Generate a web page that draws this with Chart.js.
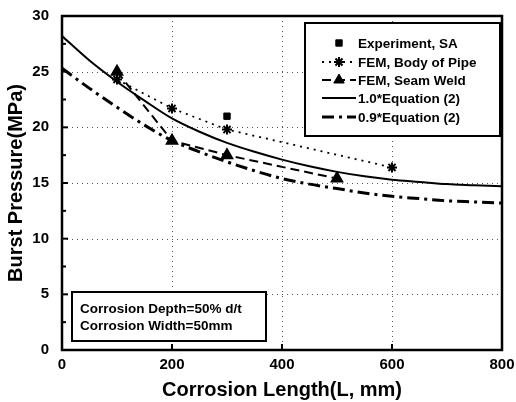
<!DOCTYPE html>
<html><head><meta charset="utf-8">
<script src="https://cdn.jsdelivr.net/npm/chart.js@4/dist/chart.umd.min.js"></script>
<style>html,body{margin:0;padding:0;background:#fff;}#wrap{width:516px;height:402px;}</style>
</head><body><div id="wrap"><canvas id="c" width="516" height="402"></canvas></div>
<script>
// ---- data ----
const expX = [300];
const expY = [21.0];
const bodyX = [100, 200, 300, 600];
const bodyY = [24.3, 21.7, 19.8, 16.4];
const seamX = [100, 200, 300, 500];
const seamY = [25.0, 18.8, 17.5, 15.4];
const eqX = [0, 50, 100, 150, 200, 250, 300, 350, 400, 450, 500, 550, 600, 650, 700, 750, 800];
const eq10Y = [28.2, 26.0, 24.1, 22.4, 20.8, 19.6, 18.6, 17.8, 17.1, 16.5, 16.0, 15.6, 15.3, 15.1, 14.9, 14.8, 14.7];
const eq09Y = [25.3, 23.5, 21.8, 20.2, 18.8, 17.8, 16.9, 16.1, 15.4, 14.9, 14.5, 14.1, 13.8, 13.6, 13.4, 13.3, 13.2];
const xTicks = [0, 200, 400, 600, 800];
const yTicks = [0, 5, 10, 15, 20, 25, 30];
const legendLabels = ['Experiment, SA', 'FEM, Body of Pipe', 'FEM, Seam Weld', '1.0*Equation (2)', '0.9*Equation (2)'];
const noteLines = ['Corrosion Depth=50% d/t', 'Corrosion Width=50mm'];
const xTitle = 'Corrosion Length(L, mm)';
const yTitle = 'Burst Pressure(MPa)';

const pts = (xs, ys) => xs.map((x, i) => ({x, y: ys[i]}));
const FONT = '"Liberation Sans", Arial, sans-serif';

const datasets = [
  {label: legendLabels[0], data: pts(expX, expY), showLine: false, pointStyle: 'rect', pointRadius: 4.5, backgroundColor: '#000', borderColor: '#000', borderWidth: 1},
  {label: legendLabels[1], data: pts(bodyX, bodyY), showLine: true, borderDash: [2, 5], borderWidth: 1.8, pointStyle: 'star', pointRadius: 5, pointBorderWidth: 2, backgroundColor: '#000', borderColor: '#000'},
  {label: legendLabels[2], data: pts(seamX, seamY), showLine: true, borderDash: [9, 5], borderWidth: 2, pointStyle: 'triangle', pointRadius: 6, backgroundColor: '#000', borderColor: '#000'},
  {label: legendLabels[3], data: pts(eqX, eq10Y), showLine: true, borderWidth: 2, pointRadius: 0, cubicInterpolationMode: 'monotone', borderColor: '#000'},
  {label: legendLabels[4], data: pts(eqX, eq09Y), showLine: true, borderWidth: 3, borderDash: [12, 5, 3, 5], pointRadius: 0, cubicInterpolationMode: 'monotone', borderColor: '#000'}
];

const decor = {
  id: 'decor',
  beforeDatasetsDraw(chart) {
    const {ctx, chartArea: a, scales: {x, y}} = chart;
    ctx.save();
    ctx.strokeStyle = '#555';
    ctx.lineWidth = 1;
    ctx.setLineDash([1, 4]);
    [200, 400, 600].forEach(v => {
      const px = Math.round(x.getPixelForValue(v)) + 0.5;
      ctx.beginPath(); ctx.moveTo(px, a.top); ctx.lineTo(px, a.bottom); ctx.stroke();
    });
    [5, 10, 15, 20, 25].forEach(v => {
      const py = Math.round(y.getPixelForValue(v)) + 0.5;
      ctx.beginPath(); ctx.moveTo(a.left, py); ctx.lineTo(a.right, py); ctx.stroke();
    });
    ctx.restore();
  },
  afterDraw(chart) {
    const {ctx, chartArea: a, scales: {x, y}} = chart;
    ctx.save();
    ctx.setLineDash([]);
    ctx.strokeStyle = '#000';
    ctx.lineWidth = 2.5;
    ctx.strokeRect(a.left, a.top, a.right - a.left, a.bottom - a.top);
    ctx.lineWidth = 2;
    [200, 400, 600].forEach(v => {
      const px = x.getPixelForValue(v);
      ctx.beginPath(); ctx.moveTo(px, a.bottom); ctx.lineTo(px, a.bottom - 6); ctx.stroke();
    });
    for (let v = 2.5; v < 30; v += 2.5) {
      const py = y.getPixelForValue(v);
      const len = (v % 5 === 0) ? 6 : 4;
      ctx.beginPath(); ctx.moveTo(a.left, py); ctx.lineTo(a.left + len, py); ctx.stroke();
    }
    // legend box
    const lx = 305, ly = 23, lw = 195, lh = 113;
    ctx.fillStyle = '#fff';
    ctx.fillRect(lx, ly, lw, lh);
    ctx.lineWidth = 2;
    ctx.strokeRect(lx, ly, lw, lh);
    const rows = [43, 62, 80, 98, 117];
    const x0 = 322, x1 = 356, xm = 339;
    ctx.font = 'bold 13.5px ' + FONT;
    ctx.textBaseline = 'middle';
    ctx.textAlign = 'left';
    chart.data.datasets.forEach((ds, i) => {
      const ry = rows[i];
      if (ds.showLine) {
        ctx.save();
        ctx.strokeStyle = '#000';
        ctx.lineWidth = ds.borderWidth;
        ctx.setLineDash(ds.borderDash || []);
        ctx.beginPath(); ctx.moveTo(x0, ry); ctx.lineTo(x1, ry); ctx.stroke();
        ctx.restore();
      }
      if (ds.pointRadius > 0) {
        ctx.save();
        ctx.fillStyle = '#000'; ctx.strokeStyle = '#000';
        ctx.lineWidth = ds.pointBorderWidth || 1;
        Chart.helpers.drawPoint(ctx, {pointStyle: ds.pointStyle, radius: ds.pointRadius, borderWidth: ds.pointBorderWidth || 1, rotation: 0}, xm, ry);
        ctx.restore();
      }
      ctx.fillStyle = '#000';
      ctx.fillText(ds.label, 358, ry + 1);
    });
    // note box
    ctx.fillStyle = '#fff';
    ctx.fillRect(72, 292, 194, 49);
    ctx.lineWidth = 2;
    ctx.strokeStyle = '#000';
    ctx.strokeRect(72, 292, 194, 49);
    ctx.fillStyle = '#000';
    ctx.fillText(noteLines[0], 80, 309);
    ctx.fillText(noteLines[1], 80, 326);
    ctx.restore();
  }
};

const noPad = s => { s.paddingTop = 0; s.paddingBottom = 0; s.paddingLeft = 0; s.paddingRight = 0; };

new Chart(document.getElementById('c'), {
  type: 'scatter',
  data: {datasets},
  options: {
    responsive: false,
    animation: false,
    devicePixelRatio: 1,
    layout: {padding: {left: 0, top: 16, right: 14, bottom: 0}},
    plugins: {legend: {display: false}, tooltip: {enabled: false}},
    elements: {line: {fill: false}},
    scales: {
      x: {
        type: 'linear', min: 0, max: 800,
        afterBuildTicks: s => { s.ticks = xTicks.map(v => ({value: v})); },
        afterFit: s => { s.height = 52; noPad(s); },
        grid: {display: false, drawTicks: false},
        border: {display: false},
        ticks: {color: '#000', font: {family: FONT, weight: 'bold', size: 15}, padding: 6, maxRotation: 0},
        title: {display: true, text: xTitle, color: '#000', font: {family: FONT, weight: 'bold', size: 20}, padding: {top: 0, bottom: 0}}
      },
      y: {
        type: 'linear', min: 0, max: 30,
        afterBuildTicks: s => { s.ticks = yTicks.map(v => ({value: v})); },
        afterFit: s => { s.width = 62; noPad(s); },
        grid: {display: false, drawTicks: false},
        border: {display: false},
        ticks: {color: '#000', font: {family: FONT, weight: 'bold', size: 15}, padding: 13},
        title: {display: true, text: yTitle, color: '#000', font: {family: FONT, weight: 'bold', size: 20}, padding: {top: 4, bottom: 0}}
      }
    }
  },
  plugins: [decor]
});
</script></body></html>
